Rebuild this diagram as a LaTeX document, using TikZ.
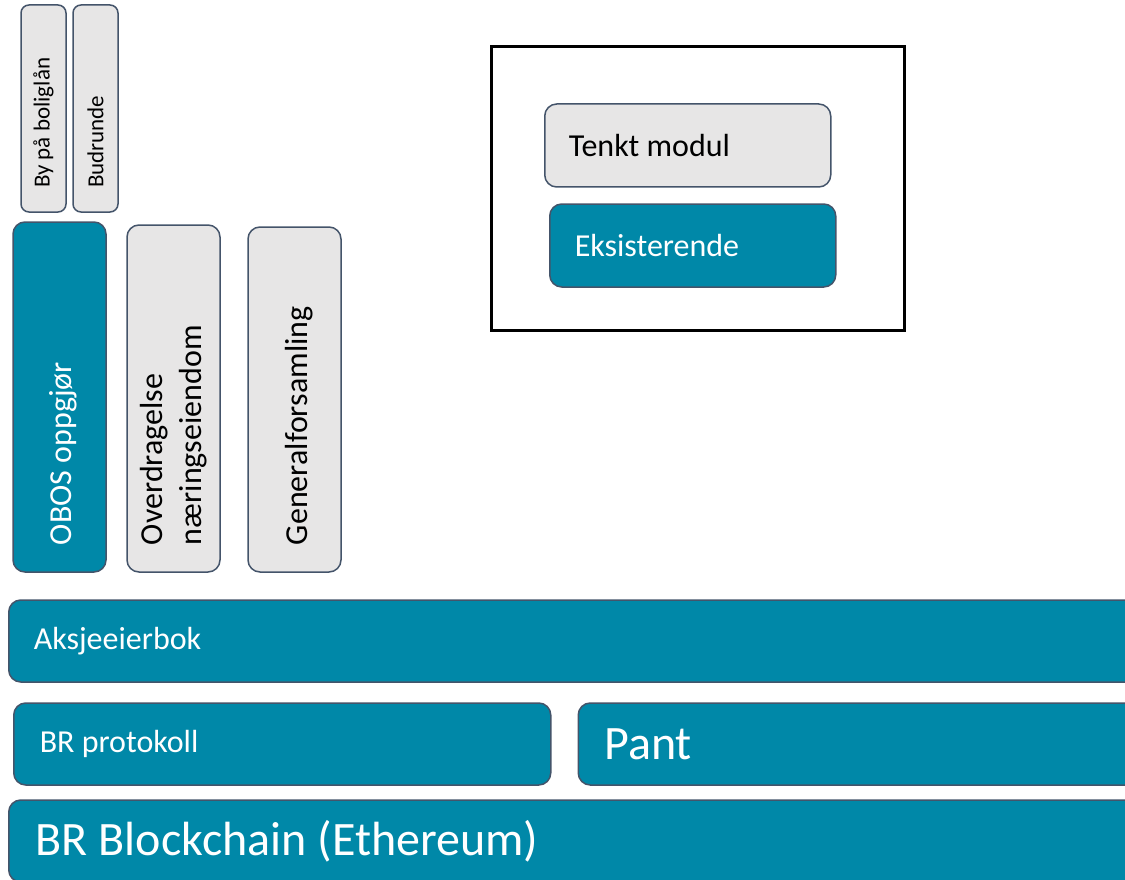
\documentclass[tikz,border=0pt]{standalone}
\usepackage{fontspec}
\setmainfont{Carlito}
\usepackage{tikz}
\usetikzlibrary{positioning,shapes}
\definecolor{brteal}{HTML}{0088A8}
\definecolor{brgray}{HTML}{E7E6E6}
\definecolor{brline}{HTML}{44546A}
\tikzstyle{module}=[rectangle,rounded corners=12pt,fill=brteal,draw=brline,line width=1.5pt,text=white]
\tikzstyle{planned}=[rectangle,rounded corners=12pt,fill=brgray,draw=brline,line width=1.5pt,text=black]
\tikzstyle{legend}=[rectangle,draw=black,line width=3pt]
\tikzstyle{layer}=[anchor=west,minimum height=82pt,align=flush left]
\tikzstyle{pillar}=[rotate=90,align=flush left,minimum height=93pt,font=\midfont]
\tikzstyle{smallpillar}=[rotate=90,align=flush left,minimum width=207pt,minimum height=45pt,text width=159pt,inner xsep=24pt,rounded corners=8pt,font=\smallfont]
\def\bigfont{\fontsize{48}{52}\selectfont}
\def\midfont{\fontsize{32}{39.5}\selectfont}
\def\smallfont{\fontsize{23}{27}\selectfont}

\begin{document}
\begin{tikzpicture}[x=1pt,y=-1pt]
		\useasboundingbox (0,0) rectangle (1125,880);

		% legend
		\node[legend,minimum width=413pt,minimum height=284pt,anchor=north west] (legend) at (490,45) {};
		\node[planned,layer,minimum height=83pt,text width=238pt,inner xsep=24pt,font=\midfont] (tenkt) at (544,145.5) {Tenkt modul};
		\node[module,layer,minimum height=83pt,text width=236pt,inner xsep=25pt,font=\midfont] (eksist) at (549,245.5) {Eksisterende};

		% small modules on top of OBOS
		\node[planned,smallpillar] (boliglaan) at (43.5,108.5) {By på boliglån};
		\node[planned,smallpillar] (budrunde) at (95.5,108.5) {Budrunde};

		% modules on the share register
		\node[module,pillar,minimum width=350pt,text width=296pt,inner xsep=27pt,text height=30pt] (obos) at (59.5,397) {OBOS oppgjør};
		\node[planned,pillar,minimum width=347pt,text width=293pt,inner xsep=27pt] (overdragelse) at (173.5,398.5) {Overdragelse\\næringseiendom};
		\node[planned,pillar,minimum width=345pt,text width=291pt,inner xsep=27pt,text height=32pt] (genforsamling) at (294.5,399.5) {Generalforsamling};

		% layers
		\node[module,layer,minimum width=1132pt,text width=1082pt,inner xsep=25pt,font=\midfont] (aksjebok) at (8,641) {Aksjeeierbok};
		\node[module,layer,minimum width=537pt,text width=485pt,inner xsep=26pt,font=\midfont] (protokoll) at (13,744) {BR protokoll};
		\node[module,layer,minimum width=563pt,text width=511pt,inner xsep=25pt,font=\bigfont,right=26pt of protokoll] (pant) {Pant};
		\node[module,layer,minimum width=1132pt,text width=1078pt,inner xsep=27pt,font=\bigfont] (blockchain) at (8,841) {BR Blockchain (Ethereum)};
	\end{tikzpicture}
\end{document}
